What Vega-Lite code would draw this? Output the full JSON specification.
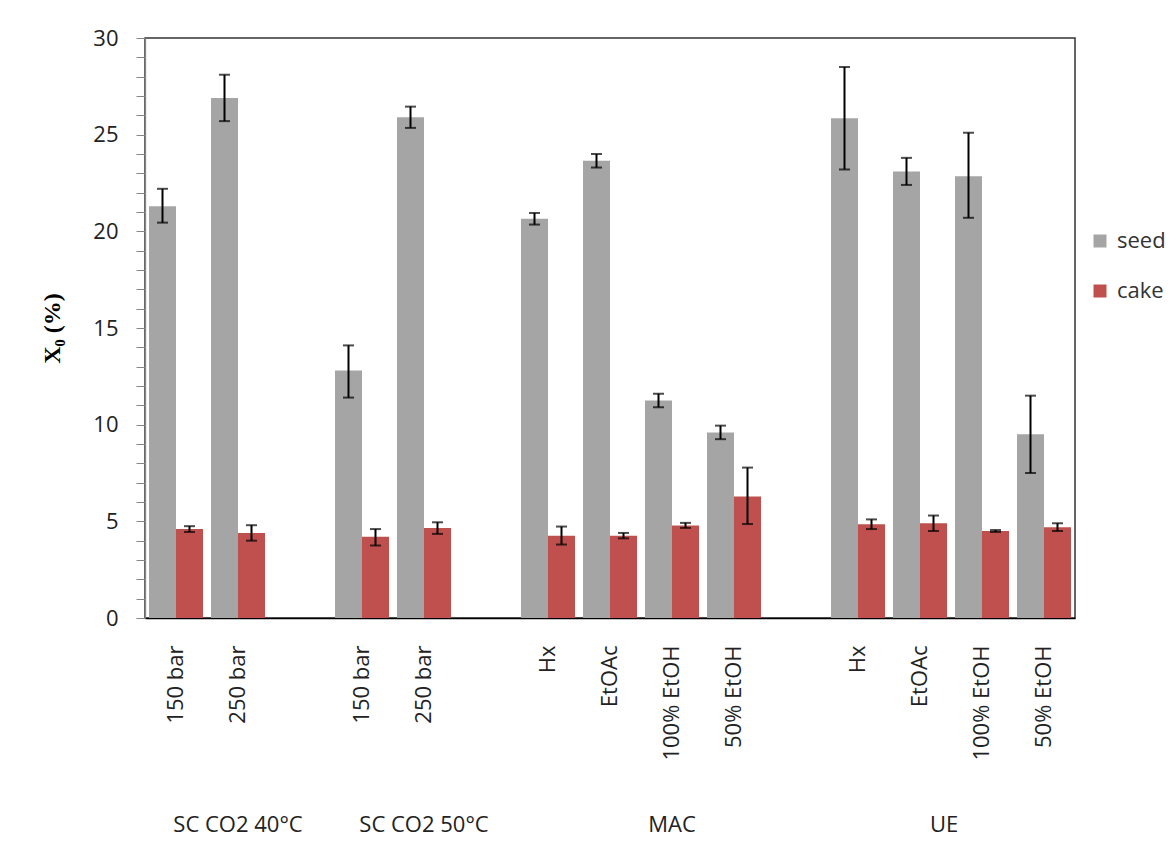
{
  "$schema": "https://vega.github.io/schema/vega-lite/v6.json",
  "width": 930,
  "height": 580,
  "autosize": {"type": "none"},
  "padding": {"left": 145, "top": 38, "right": 97, "bottom": 243},
  "background": "#ffffff",
  "config": {
    "font": "Open Sans",
    "view": {"stroke": "#333333", "strokeWidth": 1.5},
    "axis": {"grid": false}
  },
  "datasets": {
    "bars": [
      {"cat": "SC CO2 40°C|150 bar", "series": "seed", "value": 21.3, "lo": 20.45, "hi": 22.2},
      {"cat": "SC CO2 40°C|250 bar", "series": "seed", "value": 26.9, "lo": 25.7, "hi": 28.1},
      {"cat": "SC CO2 50°C|150 bar", "series": "seed", "value": 12.8, "lo": 11.4, "hi": 14.1},
      {"cat": "SC CO2 50°C|250 bar", "series": "seed", "value": 25.9, "lo": 25.35, "hi": 26.45},
      {"cat": "MAC|Hx", "series": "seed", "value": 20.65, "lo": 20.35, "hi": 20.95},
      {"cat": "MAC|EtOAc", "series": "seed", "value": 23.65, "lo": 23.3, "hi": 24.0},
      {"cat": "MAC|100% EtOH", "series": "seed", "value": 11.25, "lo": 10.9, "hi": 11.6},
      {"cat": "MAC|50% EtOH", "series": "seed", "value": 9.6, "lo": 9.25, "hi": 9.95},
      {"cat": "UE|Hx", "series": "seed", "value": 25.85, "lo": 23.2, "hi": 28.5},
      {"cat": "UE|EtOAc", "series": "seed", "value": 23.1, "lo": 22.4, "hi": 23.8},
      {"cat": "UE|100% EtOH", "series": "seed", "value": 22.85, "lo": 20.7, "hi": 25.1},
      {"cat": "UE|50% EtOH", "series": "seed", "value": 9.5, "lo": 7.5, "hi": 11.5},
      {"cat": "SC CO2 40°C|150 bar", "series": "cake", "value": 4.6, "lo": 4.45, "hi": 4.75},
      {"cat": "SC CO2 40°C|250 bar", "series": "cake", "value": 4.4, "lo": 4.0, "hi": 4.8},
      {"cat": "SC CO2 50°C|150 bar", "series": "cake", "value": 4.2, "lo": 3.75, "hi": 4.6},
      {"cat": "SC CO2 50°C|250 bar", "series": "cake", "value": 4.65, "lo": 4.35, "hi": 4.95},
      {"cat": "MAC|Hx", "series": "cake", "value": 4.26, "lo": 3.8, "hi": 4.73},
      {"cat": "MAC|EtOAc", "series": "cake", "value": 4.26, "lo": 4.12, "hi": 4.4},
      {"cat": "MAC|100% EtOH", "series": "cake", "value": 4.78, "lo": 4.66, "hi": 4.92},
      {"cat": "MAC|50% EtOH", "series": "cake", "value": 6.28, "lo": 4.86, "hi": 7.78},
      {"cat": "UE|Hx", "series": "cake", "value": 4.85, "lo": 4.6, "hi": 5.1},
      {"cat": "UE|EtOAc", "series": "cake", "value": 4.9, "lo": 4.5, "hi": 5.3},
      {"cat": "UE|100% EtOH", "series": "cake", "value": 4.5, "lo": 4.45, "hi": 4.55},
      {"cat": "UE|50% EtOH", "series": "cake", "value": 4.7, "lo": 4.5, "hi": 4.9}
    ],
    "groups": [
      {"cat": "SC CO2 40°C|250 bar", "label": "SC CO2 40°C"},
      {"cat": "SC CO2 50°C|250 bar", "label": "SC CO2 50°C"},
      {"cat": "MAC|100% EtOH", "label": "MAC"}
    ],
    "groups2": [
      {"cat": "UE|EtOAc", "label": "UE"}
    ]
  },
  "layer": [
    {
      "data": {"name": "bars"},
      "mark": {"type": "bar"},
      "encoding": {
        "x": {
          "field": "cat", "type": "nominal", "title": null,
          "scale": {
            "domain": ["SC CO2 40°C|150 bar", "SC CO2 40°C|250 bar", "gap1|", "SC CO2 50°C|150 bar", "SC CO2 50°C|250 bar", "gap2|", "MAC|Hx", "MAC|EtOAc", "MAC|100% EtOH", "MAC|50% EtOH", "gap3|", "UE|Hx", "UE|EtOAc", "UE|100% EtOH", "UE|50% EtOH"],
            "paddingInner": 0, "paddingOuter": 0
          },
          "axis": {
            "labelExpr": "split(datum.label, '|')[1]",
            "labelAngle": -90,
            "labelFontSize": 22,
            "labelColor": "#222222",
            "labelPadding": 27,
            "labelOverlap": false,
            "ticks": false,
            "tickSize": 0,
            "domainColor": "#000000",
            "domainWidth": 1.3
          }
        },
        "xOffset": {
          "field": "series", "type": "nominal",
          "scale": {"domain": ["seed", "cake"], "paddingInner": 0, "paddingOuter": 0.148}
        },
        "y": {
          "field": "value", "type": "quantitative", "title": "X₀ (%)",
          "scale": {"domain": [0, 30], "nice": false},
          "axis": {
            "values": [0,1,2,3,4,5,6,7,8,9,10,11,12,13,14,15,16,17,18,19,20,21,22,23,24,25,26,27,28,29,30],
            "tickCount": 40,
            "labelExpr": "datum.value % 5 === 0 ? datum.label : ''",
            "labelOverlap": false,
            "labelFontSize": 22,
            "labelColor": "#222222",
            "labelPadding": 18,
            "tickSize": 9,
            "tickColor": "#868686",
            "domainColor": "#868686",
            "domainWidth": 1.3,
            "titleFont": "Liberation Serif",
            "titleFontWeight": "bold",
            "titleFontSize": 24,
            "titleColor": "#000000",
            "titlePadding": 28
          }
        },
        "color": {
          "field": "series", "type": "nominal",
          "scale": {"domain": ["seed", "cake"], "range": ["#A5A5A5", "#C0504D"]},
          "legend": {
            "title": null,
            "orient": "none",
            "legendX": 944,
            "legendY": 192,
            "padding": 0,
            "symbolType": "square",
            "symbolSize": 169,
            "symbolStrokeWidth": 0,
            "labelFontSize": 22,
            "labelColor": "#333333",
            "labelOffset": 6,
            "rowPadding": 28
          }
        }
      }
    },
    {
      "data": {"name": "bars"},
      "mark": {"type": "rule", "color": "#000000", "strokeWidth": 2},
      "encoding": {
        "x": {"field": "cat", "type": "nominal", "title": null},
        "xOffset": {"field": "series", "type": "nominal"},
        "y": {"field": "lo", "type": "quantitative", "title": "X₀ (%)"},
        "y2": {"field": "hi"}
      }
    },
    {
      "data": {"name": "bars"},
      "mark": {"type": "tick", "color": "#000000", "thickness": 2, "size": 11, "orient": "horizontal"},
      "encoding": {
        "x": {"field": "cat", "type": "nominal", "title": null},
        "xOffset": {"field": "series", "type": "nominal"},
        "y": {"field": "lo", "type": "quantitative", "title": "X₀ (%)"}
      }
    },
    {
      "data": {"name": "bars"},
      "mark": {"type": "tick", "color": "#000000", "thickness": 2, "size": 11, "orient": "horizontal"},
      "encoding": {
        "x": {"field": "cat", "type": "nominal", "title": null},
        "xOffset": {"field": "series", "type": "nominal"},
        "y": {"field": "hi", "type": "quantitative", "title": "X₀ (%)"}
      }
    },
    {
      "data": {"name": "groups"},
      "mark": {"type": "text", "fontSize": 22, "color": "#222222", "baseline": "middle", "align": "center"},
      "encoding": {
        "x": {"field": "cat", "type": "nominal", "title": null},
        "y": {"datum": -10.71, "type": "quantitative", "title": "X₀ (%)"},
        "text": {"field": "label"}
      }
    },
    {
      "data": {"name": "groups2"},
      "mark": {"type": "text", "fontSize": 22, "color": "#222222", "baseline": "middle", "align": "center", "dx": 24},
      "encoding": {
        "x": {"field": "cat", "type": "nominal", "title": null},
        "y": {"datum": -10.71, "type": "quantitative", "title": "X₀ (%)"},
        "text": {"field": "label"}
      }
    }
  ]
}
